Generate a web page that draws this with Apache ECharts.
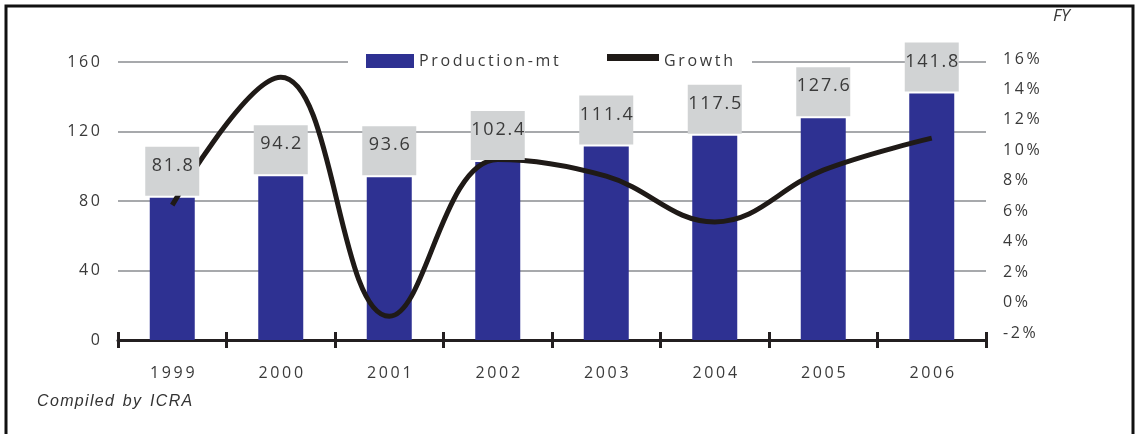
<!DOCTYPE html>
<html><head><meta charset="utf-8">
<style>html,body{margin:0;padding:0;background:#fff}#c{width:1136px;height:434px}</style>
<script src="https://cdn.jsdelivr.net/npm/echarts@6/dist/echarts.min.js"></script>
</head><body><div id="c"></div>
<script>
const categories = ['1999', '2000', '2001', '2002', '2003', '2004', '2005', '2006'];
const production = [81.8, 94.2, 93.6, 102.4, 111.4, 117.5, 127.6, 141.8];
const growth = [6.4, 14.8, -0.9, 9.4, 8.3, 5.3, 8.7, 10.8];
const leftAxis = { min: 0, max: 160, interval: 40 };
const rightAxis = { min: -2, max: 16, interval: 2 };

const sp = s => String(s).split('').join('\u2009');
const hs = s => String(s).split('').join('\u200A');
const txt = '#3a3a3a';

const chart = echarts.init(document.getElementById('c'), null, { renderer: 'canvas' });
chart.setOption({
  animation: false,
  backgroundColor: '#fff',
  textStyle: { fontFamily: 'Open Sans' },
  grid: [
    { left: 118, right: 150, top: 62, bottom: 94 },
    { left: 118, right: 150, top: 59, bottom: 101 }
  ],
  xAxis: [
    { type: 'category', data: categories, gridIndex: 0, position: 'bottom',
      axisLine: { show: true, lineStyle: { color: '#231f20', width: 3 } },
      axisTick: { show: true, interval: 0, length: 8, lineStyle: { width: 3, color: '#231f20' } },
      axisLabel: { margin: 25, fontSize: 16, lineHeight: 16, color: txt, formatter: sp } },
    { type: 'category', data: categories, gridIndex: 0, position: 'bottom',
      axisLine: { show: false },
      axisTick: { show: true, interval: 0, inside: true, length: 8, lineStyle: { width: 3, color: '#231f20' } },
      axisLabel: { show: false } },
    { type: 'category', data: categories, gridIndex: 1, show: false }
  ],
  yAxis: [
    { type: 'value', gridIndex: 0, min: leftAxis.min, max: leftAxis.max, interval: leftAxis.interval,
      axisLine: { show: false }, axisTick: { show: false },
      splitLine: { show: true, lineStyle: { color: '#a7a9ac', width: 2 } },
      axisLabel: { margin: 18, fontSize: 16, color: txt, padding: [0, 0, 11, 0], formatter: v => sp(v) } },
    { type: 'value', gridIndex: 1, position: 'right', min: rightAxis.min, max: rightAxis.max, interval: rightAxis.interval,
      axisLine: { show: false }, axisTick: { show: false }, splitLine: { show: false },
      axisLabel: { margin: 17, fontSize: 16, color: txt, formatter: v => sp(v + '%') } }
  ],
  legend: [
    { data: ['Production-mt'], left: 366, top: 53, padding: 0, itemWidth: 48, itemHeight: 14,
      icon: 'rect', textStyle: { fontSize: 16, color: txt }, formatter: sp, selectedMode: false },
    { data: [{ name: 'Growth', icon: 'path://M0,0H52V7H0Z M0,14H52V14H0Z' }], left: 607, top: 53, padding: 0,
      itemWidth: 52, itemHeight: 14,
      textStyle: { fontSize: 16, color: txt }, formatter: sp, selectedMode: false }
  ],
  graphic: [
    { type: 'rect', z: 1, silent: true, shape: { x: 348, y: 55, width: 404, height: 14 }, style: { fill: '#fff' } },
    { type: 'rect', z: 10, silent: true, shape: { x: 6, y: 6, width: 1127, height: 470 }, style: { fill: 'none', stroke: '#111', lineWidth: 3 } },
    { type: 'text', z: 10, x: 1053, y: 8, style: { text: 'FY', font: 'italic 17px "Open Sans"', fill: txt } },
    { type: 'text', z: 10, x: 37, y: 394, style: { text: hs('Compiled') + '  ' + hs('by') + '  ' + hs('ICRA'), font: 'italic 16px "Liberation Sans"', fill: '#333' } }
  ],
  series: [
    { name: 'Production-mt', type: 'bar', xAxisIndex: 0, yAxisIndex: 0, data: production,
      barWidth: 45, barGap: '-100%', z: 1, itemStyle: { color: '#2e3192' } },
    { name: 'Growth', type: 'line', xAxisIndex: 2, yAxisIndex: 1, data: growth, smooth: 0.4,
      symbol: 'none', z: 3, itemStyle: { color: '#1f1a17' }, lineStyle: { color: '#1f1a17', width: 5, cap: 'butt' } },
    { name: 'values', type: 'bar', xAxisIndex: 0, yAxisIndex: 0, data: production,
      barWidth: 45, barGap: '-100%', z: 5, itemStyle: { color: 'rgba(0,0,0,0)' },
      label: { show: true, position: 'top', distance: 2, backgroundColor: '#d1d3d4', width: 54,
        padding: [9, 0, 20, 0], fontSize: 18, lineHeight: 20, color: txt, align: 'center',
        formatter: p => hs(p.value.toFixed(1)) } }
  ]
});
</script></body></html>
